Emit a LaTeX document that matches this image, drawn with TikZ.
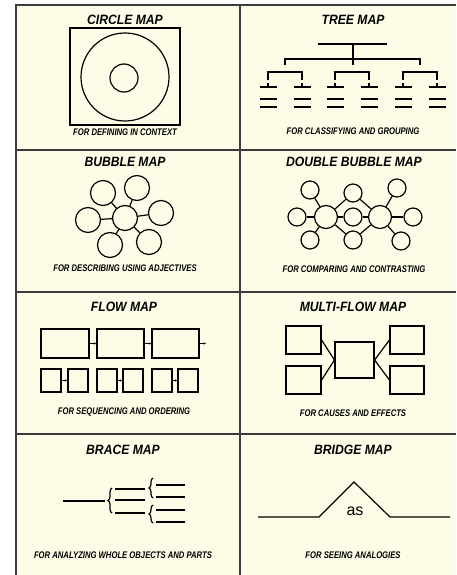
\documentclass[tikz,border=0pt]{standalone}
\usepackage{fontspec}
\setmainfont{Liberation Sans}
\newfontfamily\titlefont[FakeStretch=0.9]{Liberation Sans}
\newfontfamily\capfont[FakeStretch=0.8]{Liberation Sans}
\usetikzlibrary{arrows.meta, positioning, calc, decorations.pathreplacing}
\definecolor{paper}{RGB}{253,253,231}
\definecolor{rulegray}{RGB}{60,60,60}

\begin{document}
\begin{tikzpicture}[x=1pt, y=-1pt, >=Stealth, line width=1.2pt,
    maptitle/.style={font=\titlefont\bfseries\itshape\fontsize{13.5}{15}\selectfont, inner sep=0pt},
    mapcap/.style={font=\capfont\bfseries\itshape\fontsize{9.6}{11}\selectfont, inner sep=0pt},
    bub/.style={circle, draw, line width=1.2pt, inner sep=0pt, minimum size=#1},
    bub/.default=25pt,
    box/.style n args={2}{draw, rectangle, line width=1.2pt, inner sep=0pt, minimum width=#1, minimum height=#2},
    frame/.style={draw=rulegray, line width=1.8pt},
    flowtip/.style={-{Latex[length=2.5pt, width=2.5pt]}},
    brace/.style={decorate, decoration={brace, amplitude=4pt}}]
    \useasboundingbox (0,0) rectangle (456,575);

    % Papier und Rahmen
    \fill[paper] (16,5) rectangle (456,575);
    \draw[frame] (16,575) -- (16,5) -- (456,5);
    \draw[frame] (240,5) -- (240,575);
    \foreach \y in {150,292,434}
        \draw[frame] (16,\y) -- (456,\y);

    % Circle Map
    \node[maptitle] (t1) at (125,20) {CIRCLE MAP};
    \node[box={110pt}{97pt}] (frm) at (125,76.5) {};
    \node[bub=88pt] (ctx) at (125,77) {};
    \node[bub=28pt] (topic) at (124,78) {};
    \node[mapcap] (c1) at (125,132) {FOR DEFINING IN CONTEXT};

    % Tree Map
    \node[maptitle] (t2) at (353,20) {TREE MAP};
    \coordinate (root) at (353,44);
    \draw (318,44) -- (387,44);
    \draw (root) -- (353,65);
    \draw (285,65) -- (285,59) -- (420,59) -- (420,65);
    \foreach \c in {285,352,420} {
        \draw (\c-17,80) -- (\c-17,72) -- (\c+17,72) -- (\c+17,80);
        \foreach \x in {\c-17,\c+17} {
            \draw (\x,83) -- (\x,87);
            \draw (\x-8.5,87) -- (\x+8.5,87);
            \draw (\x-8.5,99) -- (\x+8.5,99);
            \draw (\x-8.5,107) -- (\x+8.5,107);
        }
    }
    \node[mapcap] (c2) at (353,131) {FOR CLASSIFYING AND GROUPING};

    % Bubble Map
    \node[maptitle] (t3) at (125,162) {BUBBLE MAP};
    \node[bub] (adj0) at (125,218) {};
    \foreach \n/\p in {1/{103,193}, 2/{137,188}, 3/{161,213}, 4/{88,220}, 5/{110,245}, 6/{149,242}} {
        \node[bub] (adj\n) at (\p) {};
        \draw (adj0) -- (adj\n);
    }
    \node[mapcap] (c3) at (125,268) {FOR DESCRIBING USING ADJECTIVES};

    % Double Bubble Map
    \node[maptitle] (t4) at (354,162) {DOUBLE BUBBLE MAP};
    \node[bub=23pt] (lhs) at (326,217) {};
    \node[bub=23pt] (rhs) at (380,217) {};
    \foreach \n/\p in {1/{353,193}, 2/{353,217}, 3/{353,240}} {
        \node[bub=18pt] (sim\n) at (\p) {};
        \draw (lhs) -- (sim\n);
        \draw (rhs) -- (sim\n);
    }
    \foreach \n/\p in {1/{310,190}, 2/{297,217}, 3/{310,240}} {
        \node[bub=18pt] (dl\n) at (\p) {};
        \draw (lhs) -- (dl\n);
    }
    \foreach \n/\p in {1/{397,188}, 2/{413,217}, 3/{401,241}} {
        \node[bub=18pt] (dr\n) at (\p) {};
        \draw (rhs) -- (dr\n);
    }
    \node[mapcap] (c4) at (354,269) {FOR COMPARING AND CONTRASTING};

    % Flow Map
    \node[maptitle] (t5) at (124,307) {FLOW MAP};
    \node[box={48pt}{29pt}] (st1) at (65,343.5) {};
    \node[box={47pt}{29pt}] (st2) at (120.5,343.5) {};
    \node[box={47pt}{29pt}] (st3) at (175.5,343.5) {};
    \coordinate (stend) at (206,343.5);
    \draw[flowtip] (st1) -- (st2);
    \draw[flowtip] (st2) -- (st3);
    \draw[flowtip] (st3) -- (stend);
    \foreach \n/\x in {1/51, 2/78, 3/107, 4/133, 5/162, 6/188}
        \node[box={20pt}{23pt}] (ss\n) at (\x,380.5) {};
    \foreach \a/\b in {1/2, 3/4, 5/6}
        \draw[flowtip] (ss\a) -- (ss\b);
    \node[mapcap] (c5) at (124,412) {FOR SEQUENCING AND ORDERING};

    % Multi-Flow Map
    \node[maptitle] (t6) at (353,307) {MULTI-FLOW MAP};
    \node[box={39pt}{36pt}] (event) at (354.5,360) {};
    \node[box={35pt}{28pt}] (cause1) at (303.5,340) {};
    \node[box={35pt}{28pt}] (cause2) at (303.5,380) {};
    \node[box={34pt}{28pt}] (eff1) at (407,340) {};
    \node[box={34pt}{28pt}] (eff2) at (407,380) {};
    \draw (cause1.east) -- (event.west);
    \draw (cause2.east) -- (event.west);
    \draw (eff1.west) -- (event.east);
    \draw (eff2.west) -- (event.east);
    \node[mapcap] (c6) at (353,413) {FOR CAUSES AND EFFECTS};

    % Brace Map
    \node[maptitle] (t7) at (123,450) {BRACE MAP};
    \coordinate (whole) at (63,501);
    \draw (whole) -- (105,501);
    \draw[brace] (112,513) -- (112,488);
    \foreach \y in {489,500,513}
        \draw (115,\y) -- (145,\y);
    \draw[brace] (153,498) -- (153,478);
    \draw[brace] (153,523) -- (153,505);
    \foreach \y in {485,497,510,522}
        \draw (156,\y) -- (185,\y);
    \node[mapcap] (c7) at (123,555) {FOR ANALYZING WHOLE OBJECTS AND PARTS};

    % Bridge Map
    \node[maptitle] (t8) at (353,450) {BRIDGE MAP};
    \coordinate (bl) at (258,517);
    \coordinate (br) at (450,517);
    \draw (bl) -- (319,517) -- (354,482) -- (390,517) -- (br);
    \node[font=\fontsize{16}{18}\selectfont, inner sep=0pt] (as) at (355,511) {as};
    \node[mapcap] (c8) at (353,555) {FOR SEEING ANALOGIES};
\end{tikzpicture}
\end{document}
